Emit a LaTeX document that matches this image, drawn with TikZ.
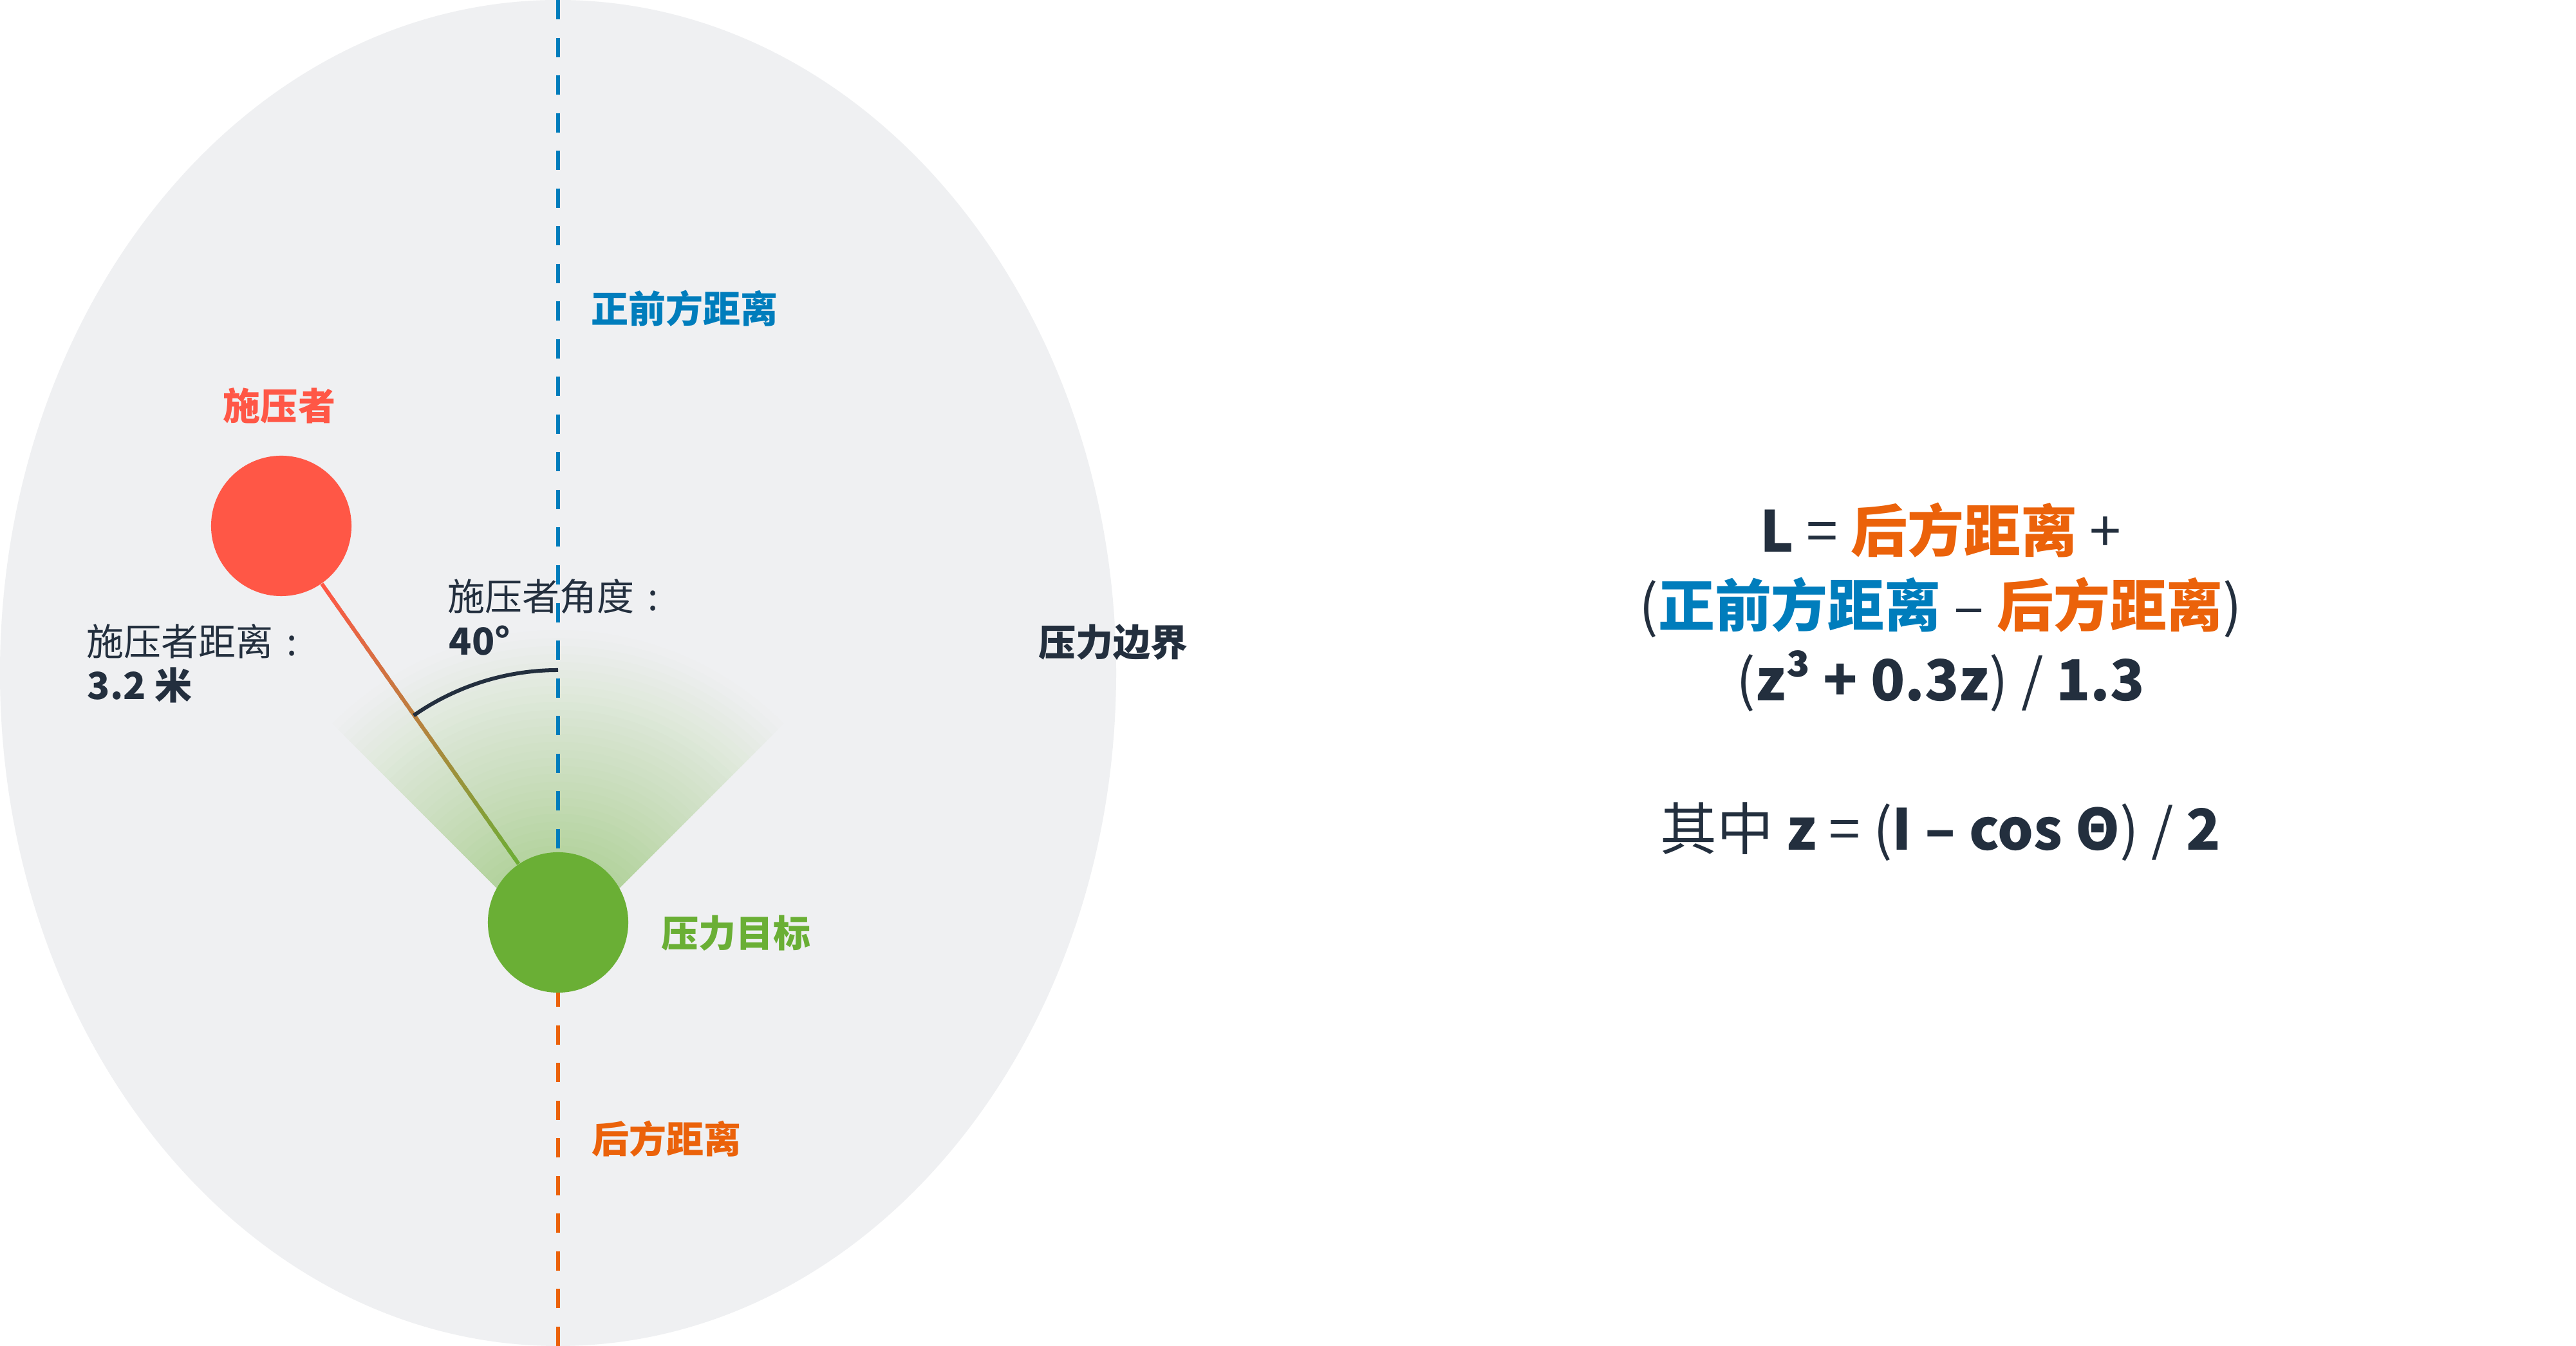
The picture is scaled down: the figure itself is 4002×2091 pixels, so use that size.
\documentclass[tikz,border=0pt]{standalone}
\usepackage{fontspec}
\setmainfont{Noto Sans CJK SC}
\usetikzlibrary{calc}

\definecolor{inkdark}{HTML}{232F3E}
\definecolor{bggray}{HTML}{EFF0F2}
\definecolor{frontblue}{HTML}{007DBC}
\definecolor{backorange}{HTML}{EB620A}
\definecolor{sourcered}{HTML}{FF5746}
\definecolor{targetgreen}{HTML}{6AAF35}

\tikzset{
  ball/.style={circle,minimum size=2.18cm,inner sep=0pt},
  axisline/.style={line width=0.06cm,dash pattern=on 0.3cm off 0.285cm},
  tag/.style={inner sep=0pt,anchor=base west,font=\fontsize{16.5}{20}\selectfont\bfseries},
  plaintag/.style={inner sep=0pt,anchor=base west,font=\fontsize{16.5}{20}\selectfont,text=inkdark},
  formula/.style={inner sep=0pt,anchor=base,font=\fontsize{25}{30}\selectfont,text=inkdark}
}

\begin{document}
\begin{tikzpicture}[x=0.01cm,y=0.01cm]
\useasboundingbox (0,0) rectangle (4002,2091);
\fill[white] (0,0) rectangle (4002,2091);

% pressure boundary
\fill[bggray] (867,1045.5) ellipse [x radius=867,y radius=1045.5];

\coordinate (tgtc) at (867,658);
\coordinate (fanapex) at (867,616);
\coordinate (axtop) at (867,2091);
\coordinate (axbot) at (867,0);

% green fan, fading outwards
\foreach \k [evaluate=\k as \r using 12.4*\k,
             evaluate=\k as \p using 62*(1-(\k-0.5)/40)] in {40,39,...,1}
  \fill[targetgreen!\p!bggray] (fanapex) -- ++(45:\r)
    arc[start angle=45,end angle=135,radius=\r] -- cycle;

% front / back axis
\draw[axisline,frontblue] (axtop) -- (tgtc);
\draw[axisline,backorange] (axbot) -- (tgtc);

% source and target
\node[ball,fill=sourcered] (src) at (437,1274) {};
\node[ball,fill=targetgreen] (tgt) at (tgtc) {};

% connector, red to green
\coordinate (cs) at (src.-55.1);
\coordinate (ct) at (tgt.124.9);
\foreach \k [evaluate=\k as \ta using \k/40,
             evaluate=\k as \tb using {min(1,(\k+1.5)/40)},
             evaluate=\k as \p using 100-2.5*\k] in {0,...,39}
  \draw[line width=0.06cm,sourcered!\p!targetgreen] ($(cs)!\ta!(ct)$) -- ($(cs)!\tb!(ct)$);

% angle
\draw[line width=0.06cm,inkdark] (tgt.center) ++(90:392)
  arc[start angle=90,end angle=124.9,radius=392];

% labels
\node[tag,text=frontblue] (frontlbl) at (918,1589) {正前方距离};
\node[tag,text=sourcered,anchor=base] (srclbl) at (434,1438) {施压者};
\node[plaintag] (distlbl) at (134,1072) {施压者距离\makebox[1em]{:}};
\node[tag,text=inkdark] (distval) at (135,1004) {3.2 米};
\node[plaintag] (anglbl) at (695,1142) {施压者角度\makebox[1em]{:}};
\node[tag,text=inkdark] (angval) at (697,1073) {40°};
\node[tag,text=inkdark] (boundlbl) at (1613,1071) {压力边界};
\node[tag,text=targetgreen] (tgtlbl) at (1027,619) {压力目标};
\node[tag,text=backorange] (backlbl) at (919,299) {后方距离};

% formula
\node[formula] (fone) at (3015,1233) {\textbf{L} = \textbf{\color{backorange}后方距离} +};
\node[formula] (ftwo) at (3015,1117) {(\textbf{\color{frontblue}正前方距离} – \textbf{\color{backorange}后方距离})};
\node[formula] (fthree) at (3015,1002) {(\textbf{z³ + 0.3z}) / \textbf{1.3}};
\node[formula] (ffour) at (3015,770) {其中 \textbf{z} = (\textbf{I – cos Θ}) / \textbf{2}};
\end{tikzpicture}
\end{document}
